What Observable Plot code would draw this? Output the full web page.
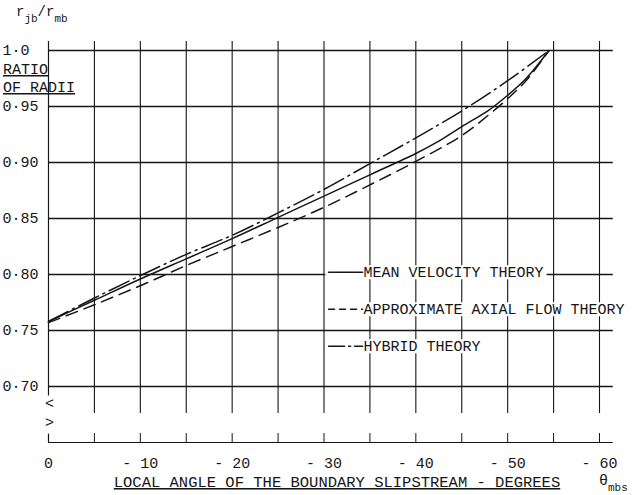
<!DOCTYPE html>
<html><head><meta charset="utf-8">
<script src="https://cdn.jsdelivr.net/npm/d3@7"></script>
<script src="https://cdn.jsdelivr.net/npm/@observablehq/plot@0.6"></script>
<style>
body{margin:0;background:#fff;}
#chart svg text{font-family:"Liberation Mono",monospace;}
</style></head><body><div id="chart"></div>
<script>
// ---- data ----
const meanAngle   = [0,-5,-10,-15,-20,-25,-30,-35,-40,-42.5,-45,-48,-50,-52,-54.5];
const meanRatio   = [0.758,0.777,0.796,0.814,0.832,0.851,0.870,0.889,0.908,0.919,0.932,0.947,0.960,0.975,1.0];
const approxAngle = [0,-5,-10,-15,-20,-25,-30,-35,-40,-45,-48,-50,-52,-54.5];
const approxRatio = [0.757,0.773,0.790,0.808,0.825,0.842,0.860,0.880,0.901,0.924,0.943,0.957,0.973,1.0];
const hybridAngle = [0,-5,-10,-15,-20,-25,-30,-35,-40,-45,-50,-54.5];
const hybridRatio = [0.758,0.779,0.799,0.818,0.835,0.855,0.876,0.899,0.922,0.946,0.973,1.0];

const xTickValues = [0,-10,-20,-30,-40,-50,-60];
const xTickLabels = ["0","- 10","- 20","- 30","- 40","- 50","- 60"];
const xGridValues = [-5,-10,-15,-20,-25,-30,-35,-40,-45,-50,-55,-60];
const yTickValues = [1.0,0.95,0.90,0.85,0.80,0.75,0.70];
const yTickLabels = ["1·0","0·95","0·90","0·85","0·80","0·75","0·70"];
const legendLabels = ["MEAN VELOCITY THEORY","APPROXIMATE AXIAL FLOW THEORY","HYBRID THEORY"];
const xTitle = "LOCAL ANGLE OF THE BOUNDARY SLIPSTREAM - DEGREES";

// ---- layout constants ----
const INK = "#161616";
const Y_MIN = 0.65, Y_TOP = 1.008, GRID_LOW = 0.676, X_END = -61.5;
const LEG_X = -30.5, LEG_TEXT_X = -34.3, LEG_Y0 = 0.802, LEG_DY = 0.033;
const CHAR_DEG = 0.99; // width of one typewriter character, in degrees of x
const dashApprox = "12,7", dashHybrid = "22,5,2,5";

const toRows = (a, r) => a.map((x, i) => ({x, y: r[i]}));
const mean = toRows(meanAngle, meanRatio);
const approx = toRows(approxAngle, approxRatio);
const hybrid = toRows(hybridAngle, hybridRatio);

const legRow = i => LEG_Y0 - i * LEG_DY;
const sample = i => [{x: LEG_X, y: legRow(i)}, {x: LEG_X - 3.7, y: legRow(i)}];

const plot = Plot.plot({
  width: 634, height: 495,
  marginLeft: 48, marginRight: 35, marginTop: 50, marginBottom: 53,
  x: {domain: [0, -60], axis: null},
  y: {domain: [Y_MIN, 1.0], axis: null},
  style: {background: "white", color: INK},
  marks: [
    // vertical grid
    Plot.ruleX(xGridValues, {y1: Y_TOP, y2: GRID_LOW, stroke: INK, strokeWidth: 1.1}),
    Plot.ruleX(xGridValues, {y1: Y_MIN, y2: 0.658, stroke: INK, strokeWidth: 1}),
    // left axis with break
    Plot.ruleX([0], {y1: Y_TOP, y2: 0.6915, stroke: INK, strokeWidth: 1.2}),
    Plot.ruleX([0], {y1: 0.6575, y2: Y_MIN, stroke: INK, strokeWidth: 1.2}),
    Plot.text(["<", ">"], {x: 0, y: (d, i) => i === 0 ? 0.685 : 0.668, text: d => d, dx: 1, fontSize: 15, fill: INK}),
    // horizontal grid + bottom line
    Plot.ruleY(yTickValues, {x1: 0, x2: X_END, stroke: INK, strokeWidth: 1.3}),
    Plot.ruleY([Y_MIN], {x1: 0, x2: X_END, stroke: INK, strokeWidth: 1.2}),
    // curves
    Plot.line(mean, {x: "x", y: "y", curve: "catmull-rom", stroke: INK, strokeWidth: 1.5}),
    Plot.line(approx, {x: "x", y: "y", curve: "catmull-rom", stroke: INK, strokeWidth: 1.5, strokeDasharray: dashApprox}),
    Plot.line(hybrid, {x: "x", y: "y", curve: "catmull-rom", stroke: INK, strokeWidth: 1.5, strokeDasharray: dashHybrid}),
    // y tick labels
    Plot.text(yTickValues, {x: 0, y: d => d, text: (d, i) => yTickLabels[i], dx: -46, textAnchor: "start", fontSize: 15, fill: INK}),
    // x tick labels
    Plot.text(xTickValues, {x: d => d, y: Y_MIN, text: (d, i) => xTickLabels[i], dy: 21, fontSize: 15, fill: INK}),
    // legend: white backing strips, then text and samples
    Plot.ruleY(legendLabels, {y: (d, i) => legRow(i), x1: LEG_TEXT_X + 0.2, x2: (d) => LEG_TEXT_X - d.length * CHAR_DEG - 0.2, stroke: "white", strokeWidth: 14}),
    Plot.ruleY(legendLabels, {y: (d, i) => legRow(i), x1: LEG_X + 0.3, x2: LEG_X - 3.8, stroke: "white", strokeWidth: 10}),
    Plot.text(legendLabels, {x: LEG_TEXT_X, y: (d, i) => legRow(i), text: d => d, textAnchor: "start", fontSize: 15, fill: INK}),
    Plot.line(sample(0), {x: "x", y: "y", stroke: INK, strokeWidth: 1.5}),
    Plot.line(sample(1), {x: "x", y: "y", stroke: INK, strokeWidth: 1.5, strokeDasharray: "6,5"}),
    Plot.line(sample(2), {x: "x", y: "y", stroke: INK, strokeWidth: 1.5, strokeDasharray: "16,4,2,4"})
  ]
});

document.getElementById("chart").appendChild(plot);

// ---- annotations (typewriter labels) ----
const svg = d3.select(plot);
const ylab = svg.append("text").attr("x", 16).attr("y", 16).attr("font-size", 14)
  .attr("text-anchor", "start").attr("fill", INK);
ylab.append("tspan").text("r");
ylab.append("tspan").attr("dy", 6).attr("font-size", 11).text("jb");
ylab.append("tspan").attr("dy", -6).text("/");
ylab.append("tspan").text("r");
ylab.append("tspan").attr("dy", 6).attr("font-size", 11).text("mb");

svg.append("text").attr("x", 3).attr("y", 74).attr("font-size", 15).attr("fill", INK)
  .attr("text-anchor", "start").style("text-decoration", "underline").text("RATIO");
svg.append("text").attr("x", 3).attr("y", 92).attr("font-size", 15).attr("fill", INK)
  .attr("text-anchor", "start").style("text-decoration", "underline").text("OF RADII");

svg.append("text").attr("x", 337).attr("y", 487).attr("font-size", 15.5).attr("fill", INK)
  .attr("text-anchor", "middle").style("text-decoration", "underline").text(xTitle);

const th = svg.append("text").attr("x", 599).attr("y", 485).attr("font-size", 15)
  .attr("text-anchor", "start").attr("fill", INK);
th.append("tspan").text("θ");
th.append("tspan").attr("dy", 6).attr("font-size", 11).text("mbs");
</script></body></html>
